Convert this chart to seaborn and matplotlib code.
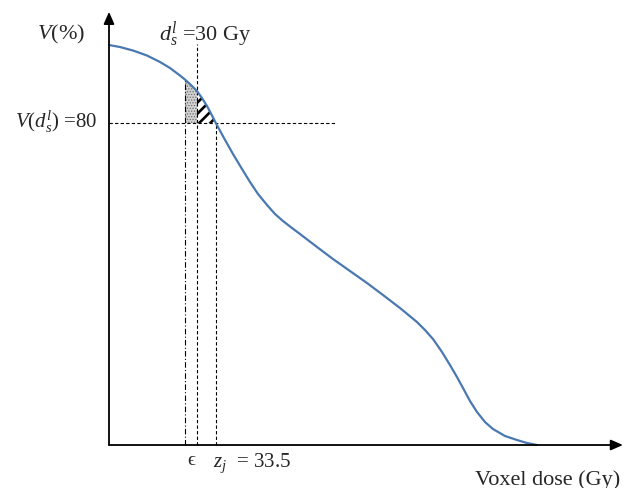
import numpy as np
import matplotlib
matplotlib.use("Agg")
import matplotlib.pyplot as plt
import seaborn as sns

# ---- data (read from the schematic) ----
dose = [0.0, 3.75, 8.18, 12.95, 17.39, 20.79, 24.20, 25.9, 27.95, 30.0, 31.70,
        33.41, 34.77, 36.4, 39.20, 42.27, 45.34, 48.07, 50.80, 53.87, 56.59,
        59.32, 62.39, 65.12, 70.92, 76.36, 82.16, 87.95, 93.41, 99.20, 104.99,
        107.72, 110.45, 113.52, 116.24, 118.63, 120.68, 123.06, 125.45, 128.18,
        130.90, 134.99, 139.09, 142.50, 145.91]
volume = [99.36, 98.86, 97.99, 96.75, 95.14, 93.65, 91.78, 90.79, 89.42, 87.93,
          86.19, 84.21, 82.34, 80.0, 76.26, 72.28, 68.56, 65.33, 62.35, 59.62,
          57.38, 55.64, 53.90, 52.41, 49.18, 46.20, 43.22, 40.24, 37.26, 34.03,
          30.55, 28.57, 26.33, 23.10, 19.87, 16.89, 14.16, 10.93, 8.20, 5.71,
          3.97, 2.24, 1.24, 0.50, 0.0]
eps_dose = 25.9       # epsilon line
eps_top = 90.79
ds_dose = 30.0        # d^l_s = 30 Gy
zj_dose = 36.4        # z_j line
v_level = 80.0        # V(d^l_s) = 80
ds_top = 99.6
hline_end = 77.4

sns.set_style("white")
plt.rcParams["font.family"] = ["Liberation Serif", "DejaVu Serif"]
plt.rcParams["mathtext.fontset"] = "custom"
plt.rcParams["mathtext.rm"] = "Liberation Serif"
plt.rcParams["mathtext.it"] = "Liberation Serif:italic"
plt.rcParams["mathtext.bf"] = "Liberation Serif:bold"

fig = plt.figure(figsize=(6.34, 4.89), dpi=100)
ax = fig.add_axes([0, 0, 1, 1])
ax.set_xlim(-37.16, 178.98)
ax.set_ylim(-10.68, 110.79)
ax.axis("off")

x = np.array(dose)
y = np.array(volume)

# shaded regions
c1 = ax.fill_between(x, v_level, y, where=(x >= eps_dose) & (x <= ds_dose),
                     facecolor="#d2d2d2", edgecolor="#6e6e6e", hatch="......",
                     linewidth=0, zorder=2)
if hasattr(c1, "set_hatch_linewidth"):
    c1.set_hatch_linewidth(0.6)
with plt.rc_context({"hatch.linewidth": 1.9}):
    c2 = ax.fill_between(x, v_level, y, where=(x >= ds_dose) & (x <= zj_dose),
                         facecolor="white", edgecolor="black", hatch="///",
                         linewidth=0, zorder=2)
    if hasattr(c2, "set_hatch_linewidth"):
        c2.set_hatch_linewidth(1.9)

# guide lines
dash = (0, (3, 2))
ax.plot([0, hline_end], [v_level, v_level], color="black", lw=0.8, ls=dash, zorder=3)
ax.plot([eps_dose, eps_dose], [0, eps_top], color="black", lw=0.8,
        ls=(0, (5, 2, 1, 2)), zorder=3)
ax.plot([ds_dose, ds_dose], [0, ds_top], color="black", lw=0.8, ls=dash, zorder=3)
ax.plot([zj_dose, zj_dose], [0, v_level], color="black", lw=0.8, ls=dash, zorder=3)

# curve
sns.lineplot(x=dose, y=volume, ax=ax, color="#4a78b0", lw=1.6, zorder=4,
             estimator=None, sort=False, solid_joinstyle="round")

# axes with arrows
arrow = dict(arrowstyle="-|>,head_length=0.5,head_width=0.22", color="black",
             lw=1.3, mutation_scale=14.4, shrinkA=0, shrinkB=0)
ax.annotate("", xy=(175.2, 0), xytext=(0, 0), arrowprops=arrow, zorder=5)
ax.annotate("", xy=(0, 107.6), xytext=(0, 0), arrowprops=arrow, zorder=5)

# texts
ax.text(-16.4, 100.9, r"$V$(%)", fontsize=16, ha="center", va="baseline")
ax.text(32.7, 100.6, r"$d^l_s$ =30 Gy", fontsize=16, ha="center", va="baseline")
ax.text(-4.1, 79.0, r"$V$($d^l_s$) =80", fontsize=15, ha="right", va="baseline")
ax.text(28.0, -4.7, "\u03f5", fontsize=14, ha="center", va="baseline")
ax.text(35.5, -5.2, r"$z_j$  = 33.5", fontsize=15, ha="left", va="baseline")
ax.text(174.2, -9.7, "Voxel dose (Gy)", fontsize=16, ha="right", va="baseline")

fig.savefig("out.png", dpi=100)
